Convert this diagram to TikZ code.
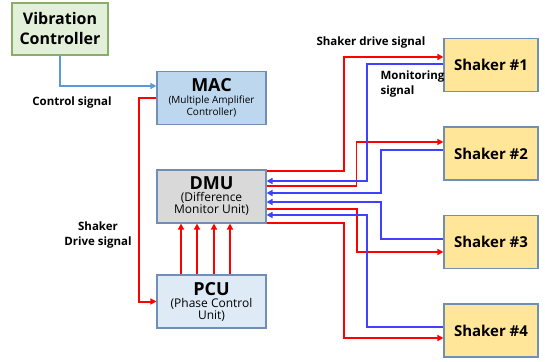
\documentclass[tikz,border=0pt]{standalone}
\usepackage{fontspec}
\setmainfont{Open Sans}
\usetikzlibrary{arrows.meta}

\definecolor{vibfill}{HTML}{E2F0D9}
\definecolor{vibdraw}{HTML}{8AAE6A}
\definecolor{macfill}{HTML}{BDD7EE}
\definecolor{pcufill}{HTML}{DEEBF7}
\definecolor{dmufill}{HTML}{D9D9D9}
\definecolor{boxdraw}{HTML}{6F8FB5}
\definecolor{shfill}{HTML}{FFE699}
\definecolor{monblue}{HTML}{4040FF}
\definecolor{ctrlblue}{HTML}{5B9BD5}

\newcommand{\bigtxt}{\fontsize{18}{20}\selectfont\bfseries}
\newcommand{\smalltxt}{\fontsize{12}{15}\selectfont\mdseries}

\begin{document}
\begin{tikzpicture}[x=1pt,y=-1pt,>={Triangle[length=6pt,width=6pt]},
  box/.style={draw=boxdraw,line width=1.1pt,inner sep=0pt,align=center,
    minimum width=109pt,minimum height=53pt},
  shaker/.style={box,fill=shfill,minimum width=94pt,
    font=\fontsize{15}{18}\selectfont\bfseries},
  drive/.style={->,line width=2pt,red},
  drivethin/.style={->,line width=1.1pt,red},
  mon/.style={->,line width=2pt,monblue},
  ctrl/.style={->,line width=2pt,ctrlblue},
  lbl/.style={align=center,font=\fontsize{11.5}{15}\selectfont\bfseries}]
\useasboundingbox (0,0) rectangle (545,361);

\node[box,fill=vibfill,draw=vibdraw,minimum width=96pt,minimum height=52pt,
  font=\fontsize{16}{20}\selectfont\bfseries] (vib) at (60,29) {Vibration\\Controller};
\node[box,fill=macfill] (mac) at (211.5,98)
  {\bigtxt MAC\\\fontsize{10}{12}\selectfont\mdseries (Multiple Amplifier\\\fontsize{10}{12}\selectfont Controller)};
\node[box,fill=dmufill] (dmu) at (211.5,196.5)
  {\bigtxt DMU\\\smalltxt (Difference\\\smalltxt Monitor Unit)};
\node[box,fill=pcufill] (pcu) at (211.5,301.5)
  {\bigtxt PCU\\\smalltxt (Phase Control\\\smalltxt Unit)};
\foreach \i/\y in {1/65,2/153.5,3/242,4/330.5}
  \node[shaker] (sh\i) at (491,\y) {Shaker \#\i};

% control and drive from the controller side
\draw[ctrl] (vib.south) |- ([yshift=12pt]mac.west);
\draw[drive] (mac.west) -- ++(-17,0) |- (pcu.west);
\foreach \dx in {-30.5,-14.5,2.5,18.5}
  \draw[drive] ([xshift=\dx pt]pcu.north) -- ([xshift=\dx pt]dmu.south);

% drive signals to the shakers
\draw[drive] ([yshift=25.5pt]dmu.east) -- ++(77,0) |- ([yshift=8pt]sh1.west);
\draw[drivethin] ([yshift=10.5pt]dmu.east) -- ++(90,0) |- ([yshift=11.5pt]sh2.west);
\draw[drive] ([yshift=-12.5pt]dmu.east) -- ++(90,0) |- ([yshift=-10pt]sh3.west);
\draw[drive] ([yshift=-26pt]dmu.east) -- ++(77.5,0) |- ([yshift=-7.5pt]sh4.west);

% monitoring signals back to the DMU
\draw[mon] ([yshift=1pt]sh1.west) -- ++(-76,0) |- ([yshift=15.5pt]dmu.east);
\draw[mon] ([yshift=3.5pt]sh2.west) -- ++(-62.5,0) |- ([yshift=3.5pt]dmu.east);
\draw[mon] ([yshift=3pt]sh3.west) -- ++(-62.5,0) |- ([yshift=-5.5pt]dmu.east);
\draw[mon] ([yshift=3.5pt]sh4.west) -- ++(-76,0) |- ([yshift=-18.5pt]dmu.east);

\node[lbl] (ctrllbl) at (72,103) {Control signal};
\node[lbl] (drvlbl) at (98,235) {Shaker\\Drive signal};
\node[lbl] (shdrvlbl) at (371,43) {Shaker drive signal};
\node[lbl,align=left,anchor=west] (monlbl) at (377,84) {Monitoring\\signal};
\end{tikzpicture}
\end{document}
